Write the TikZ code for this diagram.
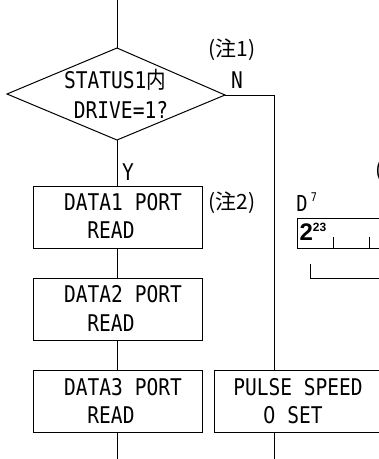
\documentclass[tikz,border=0pt]{standalone}
\usepackage{fontspec}
\newfontfamily\mono{DejaVu Sans Mono}[FakeStretch=0.85]
\newfontfamily\plainz{DejaVu Sans}[FakeStretch=0.85]
\newfontfamily\cjk{Noto Sans CJK JP}[FakeStretch=0.85]
\newfontfamily\note{Noto Sans CJK JP}
\newfontfamily\arial{Liberation Sans}
\begin{document}
\begin{tikzpicture}[x=1pt,y=-1pt,line width=1pt,
  txt/.style={font=\mono\fontsize{23}{25}\selectfont,inner sep=0},
  notetxt/.style={font=\note\fontsize{21}{23}\selectfont,inner sep=0},
  box/.style={draw,line width=1pt,minimum width=169pt,minimum height=62pt,inner sep=0,anchor=north west}]
\useasboundingbox (0,0) rectangle (379,459);
\clip (0,0) rectangle (379,459);
% diamond
\coordinate (top) at (117,0);
\coordinate (dt) at (117,48);
\coordinate (dr) at (225,95);
\coordinate (db) at (117,140);
\coordinate (dl) at (7,94);
\draw (dt) -- (dr) -- (db) -- (dl) -- cycle;
\node[txt] (d1) at (115,80) {STATUS1{\cjk 内}};
\node[txt] (d2) at (121,110) {DRIVE=1?};
% boxes
\node[box] (b1) at (33,186) {};
\node[box] (b2) at (33,278) {};
\node[box] (b3) at (33,370) {};
\node[box,minimum width=200pt] (p) at (214,370) {};
\node[txt] at (123,202) {DATA1 PORT};
\node[txt] at (111,230) {READ};
\node[txt] at (123,294) {DATA2 PORT};
\node[txt] at (111,323) {READ};
\node[txt] at (123,387) {DATA3 PORT};
\node[txt] at (111,415) {READ};
\node[txt] at (298,387) {PULSE SPEED};
\node[txt] at (293,415) {{\plainz 0} SET};
% labels
\node[txt] (lN) at (237,80) {N};
\node[txt] (lY) at (128,172) {Y};
\node[notetxt] (n1) at (232,50) {(注1)};
\node[notetxt] (n2) at (232,203) {(注2)};
\node[notetxt,anchor=west] (n3) at (375,171) {(};
% connectors
\coordinate (bot) at (117,459);
\coordinate (corner) at (274,95);
\coordinate (pbot) at (274,459);
\draw (top) -- (dt);
\draw (db) -- (db |- b1.north);
\draw (db |- b1.south) -- (db |- b2.north);
\draw (db |- b2.south) -- (db |- b3.north);
\draw (db |- b3.south) -- (bot);
\draw (dr) -- (corner) -- (corner |- p.north);
\draw (corner |- p.south) -- (pbot);
% register fragment
\node[txt,font=\mono\fontsize{22}{24}\selectfont] (dd) at (302,203) {D};
\node[inner sep=0,font=\mono\fontsize{12}{14}\selectfont] (d7) at (314,197) {7};
\coordinate (r1) at (297,218);
\coordinate (r2) at (400,248);
\draw (r1) rectangle (r2);
\node[inner sep=0,anchor=west,font=\arial\bfseries\fontsize{24}{26}\selectfont] (two) at (299,232) {2\raisebox{0.35em}{\fontsize{12}{13}\selectfont 23}};
\coordinate (t1) at (333,237);
\coordinate (t2) at (369,237);
\draw (t1) -- (t1 |- r2);
\draw (t2) -- (t2 |- r2);
\coordinate (k1) at (310,264);
\coordinate (k2) at (379,278);
\draw (k1) -- (k1 |- k2) -- (k2);
\end{tikzpicture}
\end{document}
